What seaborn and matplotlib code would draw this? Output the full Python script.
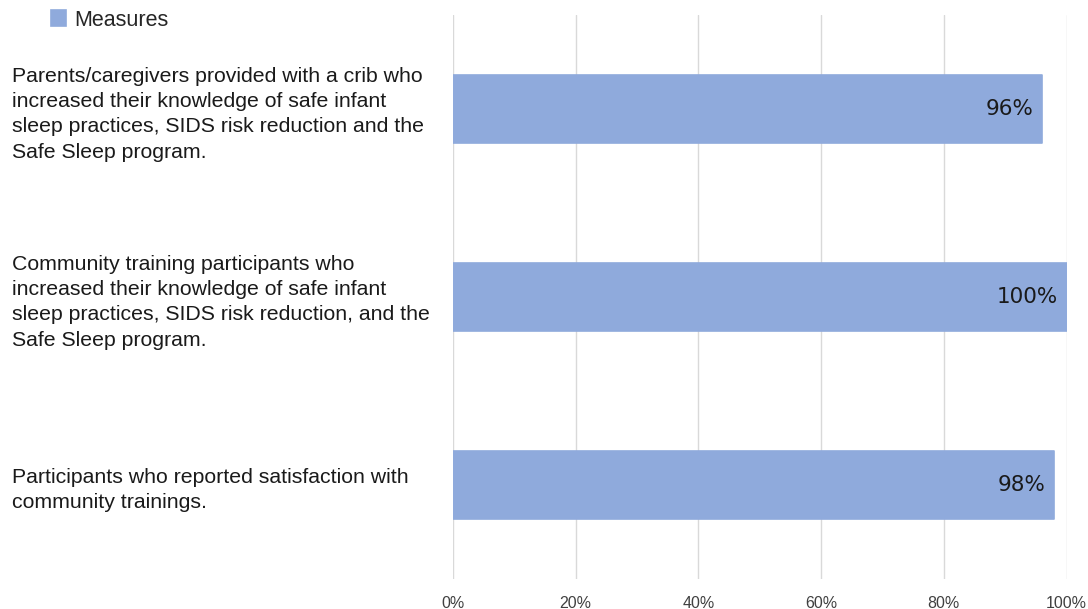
import pandas as pd
import matplotlib
matplotlib.use("Agg")
import matplotlib.pyplot as plt
import seaborn as sns

# Data
categories = [
    "Parents/caregivers provided with a crib who\nincreased their knowledge of safe infant\nsleep practices, SIDS risk reduction and the\nSafe Sleep program.",
    "Community training participants who\nincreased their knowledge of safe infant\nsleep practices, SIDS risk reduction, and the\nSafe Sleep program.",
    "Participants who reported satisfaction with\ncommunity trainings.",
]
values = [96, 100, 98]
x_ticks = [0, 20, 40, 60, 80, 100]
series_name = "Measures"

BAR_COLOR = "#8FAADC"

df = pd.DataFrame({"category": categories, "value": values})

sns.set_theme(style="white")
plt.rcParams["font.family"] = ["Liberation Sans", "DejaVu Sans"]

fig = plt.figure(figsize=(10.88, 6.09), dpi=100)
ax = fig.add_axes([453 / 1088, 1 - 579 / 609, (1066.5 - 453) / 1088, (579 - 15) / 609])

sns.barplot(
    data=df, x="value", y="category", color=BAR_COLOR, width=0.36,
    orient="h", label=series_name, ax=ax, saturation=1,
    edgecolor=BAR_COLOR, linewidth=1.2,
)
for p in ax.patches:
    p.set_joinstyle("round")

ax.set_xlim(0, 100)
ax.set_xticks(x_ticks)
ax.set_xticklabels([f"{t}%" for t in x_ticks], fontsize=11.5, color="#404040")
ax.tick_params(axis="x", length=0, pad=12)
ax.grid(True, axis="x", color="#D9D9D9", linewidth=1)
ax.set_axisbelow(True)
for s in ax.spines.values():
    s.set_visible(False)

# left aligned category labels
ax.tick_params(axis="y", length=0, pad=441 * 72 / 100)
for lab in ax.get_yticklabels():
    lab.set_horizontalalignment("left")
    lab.set_fontsize(15.3)
    lab.set_color("#1a1a1a")
    lab.set_linespacing(1.42)

ax.set_xlabel("")
ax.set_ylabel("")

# value labels inside bar ends
for i, v in enumerate(values):
    ax.annotate(f"{v}%", xy=(v, i), xytext=(-6, 0), textcoords="offset points",
                ha="right", va="center", fontsize=15.5,
                color="#1a1a1a", family="DejaVu Sans")

leg = ax.legend(loc="center left", bbox_to_anchor=(42 / 1088, 1 - 20 / 609),
                bbox_transform=fig.transFigure, frameon=False, fontsize=15.5,
                handlelength=0.7, handleheight=0.7, handletextpad=0.4,
                borderaxespad=0)

fig.savefig("out.png", dpi=100)
